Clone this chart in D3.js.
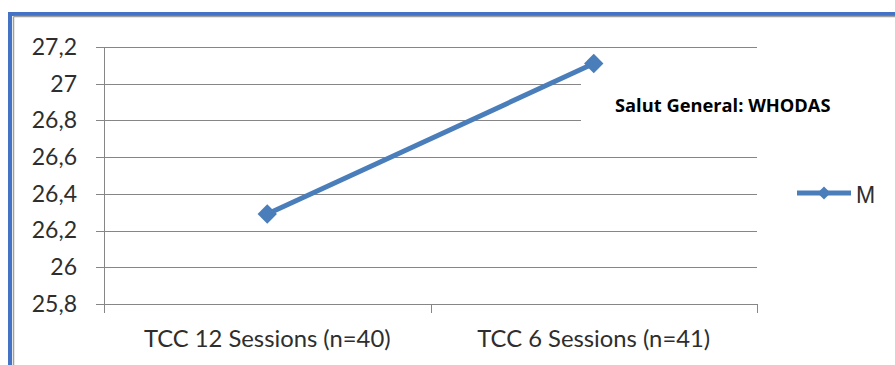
<!DOCTYPE html>
<html>
<head>
<meta charset="utf-8">
<script src="https://cdn.jsdelivr.net/npm/d3@7"></script>
<style>
  html, body { margin: 0; padding: 0; background: #fff; }
  svg { display: block; }
</style>
</head>
<body>
<svg id="chart" width="895" height="365"></svg>
<script>
// Data
const categories = ["TCC 12 Sessions (n=40)", "TCC 6 Sessions (n=41)"];
const seriesName = "M";
const seriesValues = [26.29, 27.11];
const yTicks = [25.8, 26, 26.2, 26.4, 26.6, 26.8, 27, 27.2];
const chartTitle = "Salut General: WHODAS";

const svg = d3.select("#chart");
const W = 895, H = 365;
const lineColor = "#4a7ebb";
const gridColor = "#868686";
const textColor = "#2e2e2e";
const axisFont = "Lato, 'Open Sans', sans-serif";

const plot = { left: 104, right: 757, top: 47, bottom: 304 };

const x = d3.scaleBand().domain(categories).range([plot.left, plot.right]).padding(0);
const y = d3.scaleLinear().domain([25.8, 27.2]).range([plot.bottom, plot.top]);

// Frame: blue outer edge with thin gray inner line
svg.append("rect").attr("x", 0).attr("y", 0).attr("width", W).attr("height", H).attr("fill", "#fff");
svg.append("rect").attr("x", 8).attr("y", 12).attr("width", W).attr("height", 4).attr("fill", "#4472c4");
svg.append("rect").attr("x", 8).attr("y", 12).attr("width", 4).attr("height", H).attr("fill", "#4472c4");
svg.append("line").attr("x1", 13.5).attr("x2", W).attr("y1", 16.5).attr("y2", 16.5)
  .attr("stroke", "#a0a0a0").attr("stroke-width", 1.5);
svg.append("line").attr("x1", 13.5).attr("x2", 13.5).attr("y1", 16.5).attr("y2", H)
  .attr("stroke", "#a0a0a0").attr("stroke-width", 1.5);

// Horizontal gridlines
svg.append("g")
  .selectAll("line")
  .data(yTicks)
  .join("line")
  .attr("x1", plot.left - 8)
  .attr("x2", plot.right)
  .attr("y1", d => Math.round(y(d)) + 0.5)
  .attr("y2", d => Math.round(y(d)) + 0.5)
  .attr("stroke", gridColor)
  .attr("stroke-width", 1);

// Y axis labels and vertical axis line
const yAxis = d3.axisLeft(y).tickValues(yTicks).tickSize(0).tickPadding(0)
  .tickFormat(d => d3.format("~g")(d).replace(".", ","));
const gy = svg.append("g").attr("transform", `translate(${plot.left - 27},0)`).call(yAxis);
gy.select(".domain").remove();
gy.selectAll("text")
  .attr("fill", textColor)
  .style("font-family", axisFont)
  .style("font-size", "23px");

svg.append("line")
  .attr("x1", plot.left + 0.5).attr("x2", plot.left + 0.5)
  .attr("y1", plot.top).attr("y2", plot.bottom + 9)
  .attr("stroke", gridColor);

// X axis category ticks and labels
const xBounds = [plot.left, x(categories[1]), plot.right];
svg.append("g")
  .selectAll("line")
  .data(xBounds)
  .join("line")
  .attr("x1", d => Math.round(d) + 0.5)
  .attr("x2", d => Math.round(d) + 0.5)
  .attr("y1", plot.bottom)
  .attr("y2", plot.bottom + 9)
  .attr("stroke", gridColor);

svg.append("g")
  .selectAll("text")
  .data(categories)
  .join("text")
  .attr("x", d => x(d) + x.bandwidth() / 2)
  .attr("y", 347)
  .attr("text-anchor", "middle")
  .attr("fill", textColor)
  .style("font-family", axisFont)
  .style("font-size", "23.8px")
  .text(d => d);

// Title box sits over the plot area
svg.append("rect")
  .attr("x", 581).attr("y", 77)
  .attr("width", 177).attr("height", 50)
  .attr("fill", "#fff");
svg.append("text")
  .attr("x", 615).attr("y", 112)
  .attr("fill", "#000")
  .style("font-family", "'Open Sans', sans-serif")
  .style("font-weight", "bold")
  .style("font-size", "18.3px")
  .text(chartTitle);

// Series line and markers
const pts = categories.map((c, i) => [x(c) + x.bandwidth() / 2, y(seriesValues[i])]);
svg.append("path")
  .attr("d", d3.line()(pts))
  .attr("fill", "none")
  .attr("stroke", lineColor)
  .attr("stroke-width", 5)
  .attr("stroke-linecap", "round");

const diamond = d3.symbol().type(d3.symbolDiamond2).size(240);
svg.append("g")
  .selectAll("path")
  .data(pts)
  .join("path")
  .attr("transform", d => `translate(${d[0]},${d[1]})`)
  .attr("d", diamond)
  .attr("fill", lineColor);

// Legend
const lg = svg.append("g").attr("transform", "translate(797,193)");
lg.append("line").attr("x1", 0).attr("x2", 54).attr("y1", 0).attr("y2", 0)
  .attr("stroke", lineColor).attr("stroke-width", 5);
lg.append("path").attr("transform", "translate(27,0)")
  .attr("d", d3.symbol().type(d3.symbolDiamond2).size(110)).attr("fill", lineColor);
lg.append("text").attr("x", 59).attr("y", 10)
  .attr("fill", textColor)
  .style("font-family", "'Liberation Sans', Arial, sans-serif")
  .style("font-size", "23px")
  .text(seriesName);
</script>
</body>
</html>
